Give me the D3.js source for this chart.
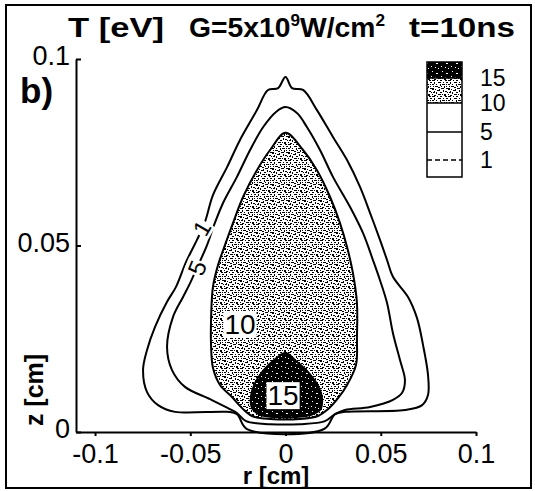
<!DOCTYPE html>
<html>
<head>
<meta charset="utf-8">
<script src="https://cdn.jsdelivr.net/npm/d3@7"></script>
<style>
  html, body { margin: 0; padding: 0; background: #fff; }
  svg { display: block; font-family: "Liberation Sans", Arial, Helvetica, sans-serif; }
</style>
</head>
<body>
<svg id="chart" width="535" height="491"></svg>
<script>
// ---- data: temperature contours T [eV] in the (r, z) plane, coordinates in cm ----
const contourLevels = [1, 5, 10, 15];

const contourT1 = [
  [0.0000, 0.0952], [0.0034, 0.0922], [0.0092, 0.0917], [0.0165, 0.0863], [0.0249, 0.0791],
  [0.0323, 0.0729], [0.0391, 0.0657], [0.0444, 0.0587], [0.0496, 0.0515], [0.0533, 0.0461],
  [0.0564, 0.0416], [0.0643, 0.0362], [0.0690, 0.0306], [0.0722, 0.0233], [0.0748, 0.0153],
  [0.0748, 0.0099], [0.0717, 0.0072], [0.0627, 0.0059], [0.0312, 0.0054], [0.0260, 0.0048],
  [0.0202, 0.0008], [-0.0202, 0.0008], [-0.0255, 0.0048], [-0.0307, 0.0054], [-0.0580, 0.0054],
  [-0.0669, 0.0072], [-0.0727, 0.0107], [-0.0748, 0.0166], [-0.0727, 0.0220], [-0.0685, 0.0282],
  [-0.0622, 0.0349], [-0.0575, 0.0389], [-0.0522, 0.0456], [-0.0465, 0.0515], [-0.0423, 0.0563],
  [-0.0381, 0.0635], [-0.0307, 0.0710], [-0.0239, 0.0783], [-0.0150, 0.0863], [-0.0092, 0.0917],
  [-0.0039, 0.0922]
];

const contourT5 = [
  [0.0000, 0.0871], [0.0060, 0.0855], [0.0113, 0.0817], [0.0181, 0.0756], [0.0249, 0.0684],
  [0.0339, 0.0603], [0.0407, 0.0533], [0.0459, 0.0461], [0.0496, 0.0407], [0.0533, 0.0346],
  [0.0564, 0.0265], [0.0601, 0.0193], [0.0627, 0.0139], [0.0612, 0.0105], [0.0564, 0.0086],
  [0.0444, 0.0067], [0.0312, 0.0059], [0.0260, 0.0048], [0.0207, 0.0029], [0.0076, 0.0021],
  [-0.0081, 0.0021], [-0.0207, 0.0029], [-0.0255, 0.0051], [-0.0302, 0.0064], [-0.0396, 0.0088],
  [-0.0528, 0.0121], [-0.0596, 0.0166], [-0.0622, 0.0228], [-0.0591, 0.0308], [-0.0538, 0.0362],
  [-0.0501, 0.0399], [-0.0465, 0.0440], [-0.0412, 0.0501], [-0.0375, 0.0555], [-0.0328, 0.0614],
  [-0.0255, 0.0684], [-0.0186, 0.0756], [-0.0118, 0.0817], [-0.0050, 0.0858]
];

const contourT10 = [
  [0.0000, 0.0802], [0.0092, 0.0756], [0.0165, 0.0702], [0.0234, 0.0630], [0.0286, 0.0560],
  [0.0323, 0.0496], [0.0354, 0.0426], [0.0375, 0.0346], [0.0375, 0.0255], [0.0370, 0.0180],
  [0.0323, 0.0126], [0.0276, 0.0091], [0.0218, 0.0059], [0.0171, 0.0043], [0.0076, 0.0035],
  [-0.0081, 0.0035], [-0.0176, 0.0043], [-0.0228, 0.0064], [-0.0281, 0.0094], [-0.0344, 0.0126],
  [-0.0381, 0.0172], [-0.0391, 0.0233], [-0.0391, 0.0300], [-0.0381, 0.0389], [-0.0354, 0.0448],
  [-0.0318, 0.0501], [-0.0276, 0.0560], [-0.0223, 0.0630], [-0.0150, 0.0702], [-0.0081, 0.0756]
];

const contourT15 = [
  [0.0000, 0.0212], [0.0060, 0.0188], [0.0123, 0.0158], [0.0171, 0.0123], [0.0192, 0.0088],
  [0.0181, 0.0059], [0.0134, 0.0046], [0.0060, 0.0040], [-0.0055, 0.0040], [-0.0134, 0.0046],
  [-0.0176, 0.0064], [-0.0181, 0.0097], [-0.0160, 0.0131], [-0.0118, 0.0164], [-0.0060, 0.0193]
];

// in-line contour labels: level, position (r, z)
const labelLevels = [1, 5, 10, 15];
const labelR = [-0.0440, -0.0465, -0.0239, -0.0013];
const labelZ = [0.0547, 0.0440, 0.0290, 0.0099];

// axis ticks
const rTicks = [-0.1, -0.05, 0, 0.05, 0.1];
const zTicks = [0, 0.05, 0.1];

// legend entries, top to bottom
const legendLevels = [15, 10, 5, 1];

// ---- layout / style ----
const svg = d3.select("#chart");
const x = d3.scaleLinear().domain([-0.11, 0.1]).range([76, 476]);
const y = d3.scaleLinear().domain([0, 0.1]).range([432, 59]);

const labelAngle = { 1: -60, 5: -68, 10: 0, 15: 0 };
const labelSize = { 1: 23, 5: 24, 10: 28, 15: 28 };
const fillFor = { 10: "url(#stipple)", 15: "url(#dark)" };

// outer figure frame
svg.append("rect")
  .attr("x", 6).attr("y", 5).attr("width", 525).attr("height", 483)
  .attr("fill", "#fff").attr("stroke", "#000").attr("stroke-width", 2);

// fill textures
const defs = svg.append("defs");
const stippleMarks = [
  [0,0,3,1],[5,0,1,1],[8,0,2,1],[13,0,2,1],
  [2,2,1,2],[6,2,3,1],[11,2,1,1],[14,2,2,1],
  [0,4,2,1],[4,4,1,1],[8,4,1,2],[10,4,3,1],[14,4,1,1],
  [1,6,1,1],[3,6,3,1],[9,6,1,1],[12,6,1,2],[14,6,1,1],
  [6,7,2,1],[0,8,2,2],[9,8,3,1],[14,8,2,1],
  [3,9,1,1],[7,9,1,1],[5,10,3,1],[11,10,1,2],[2,11,1,1],[13,11,2,1],
  [1,12,2,1],[4,12,1,2],[8,12,2,1],[15,12,1,1],
  [0,14,1,1],[6,14,3,1],[10,14,1,1],[12,14,2,2],[2,15,2,1]
];
const stip = defs.append("pattern").attr("id", "stipple")
  .attr("patternUnits", "userSpaceOnUse").attr("width", 16).attr("height", 16);
stip.append("rect").attr("width", 16).attr("height", 16).attr("fill", "#fff");
stip.selectAll("rect.m").data(stippleMarks).join("rect").attr("class", "m")
  .attr("x", d => d[0]).attr("y", d => d[1]).attr("width", d => d[2]).attr("height", d => d[3])
  .attr("fill", "#000");

const darkSpecks = [[2,1,1,1],[6,3,2,1],[1,6,1,1],[5,7,1,1],[8,8,1,1]];
const dark = defs.append("pattern").attr("id", "dark")
  .attr("patternUnits", "userSpaceOnUse").attr("width", 10).attr("height", 10);
dark.append("rect").attr("width", 10).attr("height", 10).attr("fill", "#000");
dark.selectAll("rect.m").data(darkSpecks).join("rect").attr("class", "m")
  .attr("x", d => d[0]).attr("y", d => d[1]).attr("width", d => d[2]).attr("height", d => d[3])
  .attr("fill", "#fff");

// contours
const contours = [
  { level: 1, pts: contourT1 },
  { level: 5, pts: contourT5 },
  { level: 10, pts: contourT10 },
  { level: 15, pts: contourT15 }
];
const line = d3.line()
  .x(d => x(d[0])).y(d => y(d[1]))
  .curve(d3.curveCatmullRomClosed.alpha(0.5));

const plot = svg.append("g");
plot.selectAll("path.contour").data(contours).join("path")
  .attr("class", "contour")
  .attr("d", d => line(d.pts))
  .attr("fill", d => fillFor[d.level] || "none")
  .attr("stroke", "#000").attr("stroke-width", 2).attr("stroke-linejoin", "round");

// contour labels with a white backing that breaks the line
const labels = labelLevels.map((lv, i) => ({ level: lv, r: labelR[i], z: labelZ[i] }));
const lg = plot.selectAll("g.clabel").data(labels).join("g")
  .attr("class", "clabel")
  .attr("transform", d => `translate(${x(d.r)},${y(d.z)}) rotate(${labelAngle[d.level]})`);
lg.append("text")
  .attr("text-anchor", "middle").attr("dy", "0.36em")
  .attr("font-size", d => labelSize[d.level])
  .attr("fill", "#000")
  .text(d => String(d.level));
lg.each(function () {
  const g = d3.select(this);
  const b = g.select("text").node().getBBox();
  g.insert("rect", "text")
    .attr("x", b.x - 1).attr("y", b.y + 2).attr("width", b.width + 2).attr("height", b.height - 4)
    .attr("fill", "#fff");
});

// axes
const xAxis = svg.append("g").attr("transform", `translate(0,${y(0)})`)
  .call(d3.axisBottom(x).tickValues(rTicks).tickFormat(d => String(d))
    .tickSizeInner(4).tickSizeOuter(0).tickPadding(8));
const yAxis = svg.append("g").attr("transform", `translate(${x(-0.11)},0)`)
  .call(d3.axisLeft(y).tickValues(zTicks).tickFormat(d => String(d))
    .tickSizeInner(-5).tickSizeOuter(0).tickPadding(6));
[xAxis, yAxis].forEach(a => {
  a.select(".domain").attr("stroke", "#000").attr("stroke-width", 2);
  a.selectAll(".tick line").attr("stroke", "#000").attr("stroke-width", 2);
  a.selectAll(".tick text").attr("font-size", 27).attr("fill", "#000")
    .attr("font-family", "'Liberation Sans', Arial, sans-serif");
});
yAxis.selectAll(".tick text").attr("dy", "0.22em");

// axis titles
svg.append("text")
  .attr("x", 276).attr("y", 484).attr("text-anchor", "middle")
  .attr("font-size", 24).attr("font-weight", "bold").text("r [cm]");
svg.append("text")
  .attr("transform", "translate(43,390) rotate(-90)").attr("text-anchor", "middle")
  .attr("font-size", 25).attr("font-weight", "bold").text("z [cm]");

// panel tag
svg.append("text")
  .attr("x", 20).attr("y", 103)
  .attr("font-size", 35).attr("font-weight", "bold").text("b)");

// title, in three spaced pieces
const tSize = 28;
svg.append("text").attr("x", 68).attr("y", 37)
  .attr("font-size", tSize).attr("font-weight", "bold")
  .attr("textLength", 96).attr("lengthAdjust", "spacingAndGlyphs")
  .text("T [eV]");
const tMid = svg.append("text").attr("x", 189).attr("y", 37)
  .attr("font-size", tSize).attr("font-weight", "bold")
  .attr("textLength", 196).attr("lengthAdjust", "spacingAndGlyphs");
tMid.append("tspan").text("G=5x10");
tMid.append("tspan").attr("font-size", 17).attr("dy", -11).text("9");
tMid.append("tspan").attr("dy", 11).text("W/cm");
tMid.append("tspan").attr("font-size", 17).attr("dy", -11).text("2");
svg.append("text").attr("x", 409).attr("y", 37)
  .attr("font-size", tSize).attr("font-weight", "bold")
  .attr("textLength", 106).attr("lengthAdjust", "spacingAndGlyphs")
  .text("t=10ns");

// legend: level boundaries stacked like a colour bar
const ly = d3.scaleLinear().domain(legendLevels).range([78, 103, 132, 160]);
const legX0 = 427, legX1 = 462, legTop = 62, legBottom = 177;
const leg = svg.append("g");
leg.append("rect").attr("x", legX0).attr("y", legTop)
  .attr("width", legX1 - legX0).attr("height", legBottom - legTop).attr("fill", "#fff");
leg.append("rect").attr("x", legX0).attr("y", legTop)
  .attr("width", legX1 - legX0).attr("height", ly(15) - legTop).attr("fill", "url(#dark)");
leg.append("rect").attr("x", legX0).attr("y", ly(15))
  .attr("width", legX1 - legX0).attr("height", ly(10) - ly(15)).attr("fill", "url(#stipple)");
leg.selectAll("line.lev").data(legendLevels).join("line").attr("class", "lev")
  .attr("x1", legX0).attr("x2", legX1).attr("y1", d => ly(d)).attr("y2", d => ly(d))
  .attr("stroke", "#000").attr("stroke-width", 1.5)
  .attr("stroke-dasharray", d => d === 1 ? "5,3" : null);
leg.append("rect").attr("x", legX0).attr("y", legTop)
  .attr("width", legX1 - legX0).attr("height", legBottom - legTop)
  .attr("fill", "none").attr("stroke", "#000").attr("stroke-width", 1.5);
leg.selectAll("text.lev").data(legendLevels).join("text").attr("class", "lev")
  .attr("x", 480).attr("y", d => ly(d)).attr("dy", "0.36em")
  .attr("font-size", 23).attr("fill", "#000")
  .text(d => String(d));
</script>
</body>
</html>
